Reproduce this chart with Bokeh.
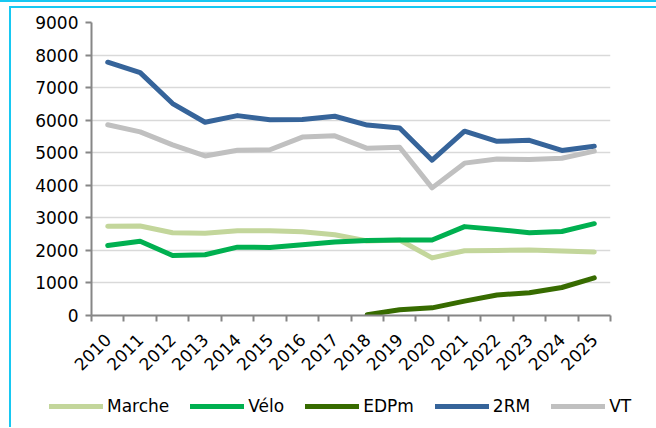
import numpy as np
from bokeh.plotting import figure
from bokeh.layouts import column, row
from bokeh.models import (ColumnDataSource, Range1d, FixedTicker, Legend, LegendItem)
from bokeh.embed import file_html
from bokeh.resources import INLINE

years = ["2010", "2011", "2012", "2013", "2014", "2015", "2016", "2017",
         "2018", "2019", "2020", "2021", "2022", "2023", "2024", "2025"]
marche = [2740, 2750, 2540, 2530, 2600, 2600, 2570, 2480,
          2290, 2320, 1770, 1990, 2000, 2010, 1980, 1950]
velo = [2150, 2280, 1845, 1865, 2100, 2090, 2170, 2260,
        2300, 2320, 2320, 2730, 2640, 2545, 2580, 2820]
edpm = [np.nan, np.nan, np.nan, np.nan, np.nan, np.nan, np.nan, np.nan,
        25, 175, 235, 440, 630, 700, 860, 1155]
rm2 = [7780, 7460, 6510, 5935, 6140, 6010, 6020, 6120,
       5850, 5760, 4770, 5660, 5350, 5380, 5070, 5200]
vt = [5860, 5640, 5240, 4900, 5075, 5090, 5480, 5520,
      5135, 5170, 3920, 4680, 4810, 4790, 4830, 5050]
series_names = ["Marche", "Vélo", "EDPm", "2RM", "VT"]
series_colors = ["#c3d69b", "#00b050", "#376b00", "#36649a", "#c0c0c0"]
y_ticks = [0, 1000, 2000, 3000, 4000, 5000, 6000, 7000, 8000, 9000]

idx = list(range(len(years)))
src = ColumnDataSource(dict(x=idx, Marche=marche, Velo=velo, EDPm=edpm, RM=rm2, VT=vt))
cols = ["Marche", "Velo", "EDPm", "RM", "VT"]

FONT = "DejaVu Sans"
BORDER = "#17c8f2"

p = figure(width=645, height=377, output_backend="svg", toolbar_location=None,
           x_range=Range1d(-0.5, len(years) - 0.5), y_range=Range1d(0, 9000),
           min_border_left=80, min_border_right=46, min_border_top=14, min_border_bottom=70)
p.outline_line_color = None
p.background_fill_color = "white"
p.border_fill_color = "white"

line_style = dict(line_width=5, line_join="round", line_cap="round")
for c, col in zip(cols, series_colors):
    p.line("x", c, source=src, line_color=col, **line_style)

# x axis
p.xaxis.ticker = FixedTicker(ticks=idx, minor_ticks=[i - 0.5 for i in range(len(years) + 1)])
p.xaxis.major_label_overrides = {i: y for i, y in enumerate(years)}
p.xaxis.major_tick_out = 0
p.xaxis.major_tick_in = 0
p.xaxis.minor_tick_out = 6
p.xaxis.minor_tick_in = 0
p.xaxis.minor_tick_line_color = "#868686"
p.xaxis.minor_tick_line_width = 2
p.xaxis.major_label_orientation = np.pi / 4
p.xaxis.major_label_standoff = 15
# y axis
p.yaxis.ticker = FixedTicker(ticks=y_ticks, minor_ticks=[])
p.yaxis.major_tick_out = 6
p.yaxis.major_tick_in = 0
p.yaxis.major_tick_line_color = "#868686"
p.yaxis.major_tick_line_width = 2
p.yaxis.major_label_standoff = 7
for ax in (p.xaxis, p.yaxis):
    ax.axis_line_color = "#868686"
    ax.axis_line_width = 2
    ax.major_label_text_font = FONT
    ax.major_label_text_font_size = "17px"
    ax.major_label_text_color = "black"

p.xgrid.visible = False
p.ygrid.ticker = FixedTicker(ticks=y_ticks)
p.ygrid.grid_line_color = "#d9d9d9"
p.ygrid.grid_line_width = 1.5

# legend strip: a separate figure whose view range shows none of the data,
# so only its legend (glyph + label per series) is visible
p2 = figure(width=645, height=42, output_backend="svg", toolbar_location=None,
            x_range=Range1d(100, 101), y_range=Range1d(-2, -1),
            x_axis_type=None, y_axis_type=None, min_border=0,
            min_border_left=0, min_border_right=0, min_border_top=0, min_border_bottom=0)
p2.outline_line_color = None
p2.grid.visible = False
legend_renderers = [p2.line("x", c, source=src, line_color=col, **line_style)
                    for c, col in zip(cols, series_colors)]
items = [LegendItem(label=n, renderers=[r]) for n, r in zip(series_names, legend_renderers)]
legend = Legend(items=items, orientation="horizontal", location=(38, 11),
                padding=0, margin=0, spacing=21, glyph_width=54, glyph_height=20,
                label_standoff=4, label_text_font=FONT, label_text_font_size="17px",
                label_text_color="black", border_line_color=None,
                background_fill_alpha=0)
p2.add_layout(legend, "center")

inner = column(p, row(p2, spacing=0), spacing=0,
               styles={"border-top": f"2px solid {BORDER}", "border-left": f"2px solid {BORDER}",
                       "margin-left": "9px", "margin-top": "4px"})
outer = column(inner, spacing=0, styles={"border-top": f"2px solid {BORDER}"})

open("out.html", "w").write(file_html(outer, INLINE))
